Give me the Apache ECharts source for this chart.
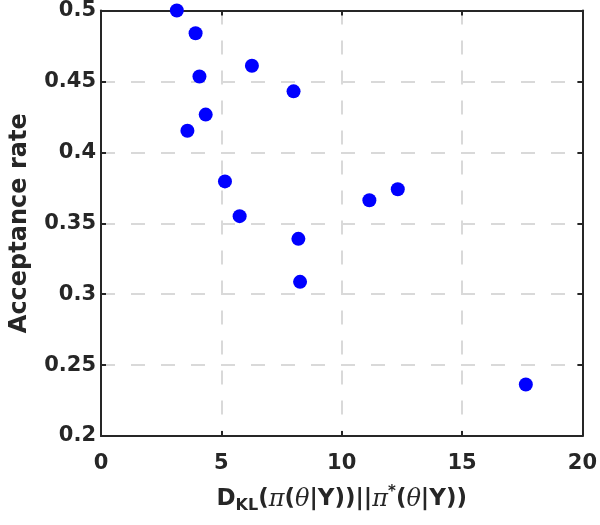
<!DOCTYPE html>
<html>
<head>
<meta charset="utf-8">
<script src="https://cdn.jsdelivr.net/npm/echarts@6/dist/echarts.min.js"></script>
<style>html,body{margin:0;padding:0;background:#fff}#c{width:600px;height:525px}</style>
</head>
<body>
<div id="c"></div>
<script>
const xValues = [3.15, 3.93, 4.09, 6.27, 8.0, 4.35, 3.59, 5.15, 5.76, 8.2, 8.27, 11.15, 12.33, 17.65];
const yValues = [0.5, 0.484, 0.4535, 0.461, 0.443, 0.4266, 0.4152, 0.3795, 0.355, 0.339, 0.3087, 0.3662, 0.374, 0.2363];
const xTicks = [0, 5, 10, 15, 20];
const yTicks = [0.2, 0.25, 0.3, 0.35, 0.4, 0.45, 0.5];

const chart = echarts.init(document.getElementById('c'), null, {renderer: 'canvas'});
const axisColor = '#262626';
const font = 'DejaVu Sans, sans-serif';
const gridLine = {show: true, lineStyle: {color: '#d9d9d9', width: 2, type: [14, 16]}};
const boxLine = {show: true, onZero: false, lineStyle: {color: axisColor, width: 2}};
const tick = {show: true, inside: true, length: 5, lineStyle: {color: axisColor, width: 2}};

chart.setOption({
  animation: false,
  grid: {left: 95, right: 13, top: 8, bottom: 89, containLabel: false},
  xAxis: [{
    type: 'value', min: xTicks[0], max: xTicks[xTicks.length - 1], interval: 5,
    position: 'bottom',
    axisLine: boxLine, axisTick: tick, splitLine: gridLine,
    axisLabel: {color: axisColor, fontSize: 21, fontWeight: 'bold', fontFamily: font, margin: 17},
    name: '{a|D}{sub|KL}{a|(}{g|π}{a|(}{g|θ}{a||Y))||}{g|π}{sup|*}{a|(}{g|θ}{a||Y))}',
    nameLocation: 'middle', nameGap: 49,
    nameTextStyle: {
      rich: {
        a: {fontSize: 23, fontWeight: 'bold', fontFamily: font, color: axisColor},
        g: {fontSize: 24, fontStyle: 'italic', fontFamily: 'DejaVu Serif, Liberation Serif, serif', color: axisColor},
        sub: {fontSize: 16, fontWeight: 'bold', fontFamily: font, color: axisColor, verticalAlign: 'bottom', padding: [13, 0, 0, 0]},
        sup: {fontSize: 15, fontWeight: 'bold', fontFamily: font, color: axisColor, verticalAlign: 'top', padding: [0, 0, 8, 0]}
      }
    }
  }, {
    type: 'value', min: xTicks[0], max: xTicks[xTicks.length - 1], interval: 5,
    position: 'top',
    axisLine: boxLine, axisTick: tick, splitLine: {show: false}, axisLabel: {show: false}
  }],
  yAxis: [{
    type: 'value', min: yTicks[0], max: yTicks[yTicks.length - 1], interval: 0.05,
    position: 'left',
    axisLine: boxLine, axisTick: tick, splitLine: gridLine,
    axisLabel: {color: axisColor, fontSize: 21, fontWeight: 'bold', fontFamily: font, margin: 5,
      formatter: v => String(parseFloat(v.toFixed(2)))},
    name: 'Acceptance rate', nameLocation: 'middle', nameGap: 69,
    nameTextStyle: {color: axisColor, fontSize: 24, fontWeight: 'bold', fontFamily: font}
  }, {
    type: 'value', min: yTicks[0], max: yTicks[yTicks.length - 1], interval: 0.05,
    position: 'right',
    axisLine: boxLine, axisTick: tick, splitLine: {show: false}, axisLabel: {show: false}
  }],
  series: [{
    type: 'scatter',
    data: xValues.map((x, i) => [x, yValues[i]]),
    symbol: 'circle', symbolSize: 14,
    itemStyle: {color: '#0000ff', opacity: 1},
    clip: false, z: 5
  }]
});
</script>
</body>
</html>
